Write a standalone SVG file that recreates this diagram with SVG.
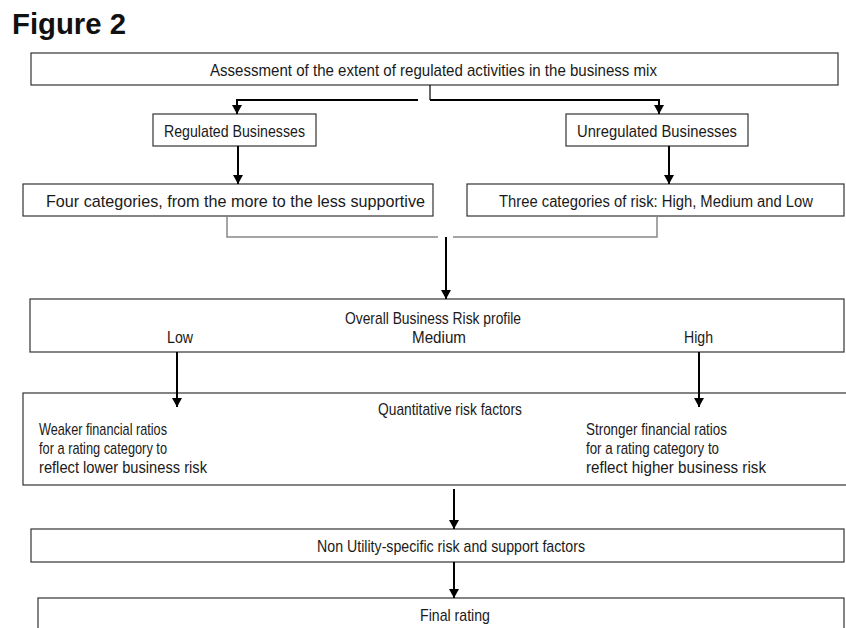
<svg xmlns="http://www.w3.org/2000/svg" width="846" height="628" viewBox="0 0 846 628">
<style>
.box{fill:#fff;stroke:#333;stroke-width:1.2}
.t{font-family:"Liberation Sans",Arial,sans-serif;font-size:17px;fill:#1a1a1a}
.arr{stroke:#000;stroke-width:2;fill:none}
.thin{stroke:#000;stroke-width:1.2;fill:none}
.gray{stroke:#888;stroke-width:1.5;fill:none}
</style>
<defs>
<marker id="ad" markerUnits="userSpaceOnUse" markerWidth="10" markerHeight="10" viewBox="0 0 10 10" refX="5" refY="10" orient="0">
<path d="M0,1 L10,1 L5,10 Z" fill="#000"/>
</marker>
</defs>
<rect width="846" height="628" fill="#fff"/>
<text x="12" y="34" style="font-family:'Liberation Sans',Arial,sans-serif;font-size:30px;font-weight:bold;fill:#111" textLength="114" lengthAdjust="spacingAndGlyphs">Figure 2</text>

<g id="assessment">
<rect class="box" x="31" y="53" width="807" height="32"/>
<text class="t" x="210" y="76" textLength="447" lengthAdjust="spacingAndGlyphs">Assessment of the extent of regulated activities in the business mix</text>
</g>
<g id="regulated">
<rect class="box" x="153" y="114" width="163" height="32"/>
<text class="t" x="164" y="137" textLength="141" lengthAdjust="spacingAndGlyphs">Regulated Businesses</text>
</g>
<g id="unregulated">
<rect class="box" x="566" y="114" width="182" height="32"/>
<text class="t" x="577" y="137" textLength="160" lengthAdjust="spacingAndGlyphs">Unregulated Businesses</text>
</g>
<g id="four">
<rect class="box" x="23" y="184" width="410" height="32"/>
<text class="t" x="46" y="207" textLength="379" lengthAdjust="spacingAndGlyphs">Four categories, from the more to the less  supportive</text>
</g>
<g id="three">
<rect class="box" x="467" y="184" width="377" height="32"/>
<text class="t" x="499" y="207" style="font-size:16px" textLength="314" lengthAdjust="spacingAndGlyphs">Three categories of risk: High, Medium and Low</text>
</g>
<g id="overall">
<rect class="box" x="30" y="299" width="814" height="53"/>
<text class="t" x="345" y="324" textLength="176" lengthAdjust="spacingAndGlyphs">Overall Business Risk profile</text>
<text class="t" x="167" y="343" textLength="26" lengthAdjust="spacingAndGlyphs">Low</text>
<text class="t" x="412" y="343" textLength="54" lengthAdjust="spacingAndGlyphs">Medium</text>
<text class="t" x="684" y="343" textLength="29" lengthAdjust="spacingAndGlyphs">High</text>
</g>
<g id="quantitative">
<rect class="box" x="23" y="393" width="830" height="92"/>
<text class="t" x="378" y="415" textLength="144" lengthAdjust="spacingAndGlyphs">Quantitative risk factors</text>
<text class="t" x="39" y="435" textLength="128" lengthAdjust="spacingAndGlyphs">Weaker financial ratios</text>
<text class="t" x="39" y="454" textLength="128" lengthAdjust="spacingAndGlyphs">for a rating category to</text>
<text class="t" x="39" y="473" textLength="168" lengthAdjust="spacingAndGlyphs">reflect lower business risk</text>
<text class="t" x="586" y="435" textLength="141" lengthAdjust="spacingAndGlyphs">Stronger financial ratios</text>
<text class="t" x="586" y="454" textLength="133" lengthAdjust="spacingAndGlyphs">for a rating category to</text>
<text class="t" x="586" y="473" textLength="180" lengthAdjust="spacingAndGlyphs">reflect higher business risk</text>
</g>
<g id="nonutility">
<rect class="box" x="31" y="529" width="813" height="33"/>
<text class="t" x="317" y="552" textLength="268" lengthAdjust="spacingAndGlyphs">Non Utility-specific risk and support factors</text>
</g>
<g id="final">
<rect class="box" x="38" y="598" width="806" height="45"/>
<text class="t" x="420" y="621" textLength="70" lengthAdjust="spacingAndGlyphs">Final rating</text>
</g>

<g id="connectors">
<line class="thin" x1="430" y1="85" x2="430" y2="100"/>
<polyline class="arr" points="430,100 659,100 659,114" marker-end="url(#ad)"/>
<polyline class="arr" points="418,100 237,100 237,114" marker-end="url(#ad)"/>
<line class="arr" x1="238" y1="146" x2="238" y2="184" marker-end="url(#ad)"/>
<line class="arr" x1="669" y1="146" x2="669" y2="184" marker-end="url(#ad)"/>
<polyline class="gray" points="227,216 227,237 438,237"/>
<polyline class="gray" points="453,237 657,237 657,216"/>
<line class="arr" x1="446" y1="237" x2="446" y2="299" marker-end="url(#ad)"/>
<line class="arr" x1="177" y1="352" x2="177" y2="407" marker-end="url(#ad)"/>
<line class="arr" x1="699" y1="352" x2="699" y2="407" marker-end="url(#ad)"/>
<line class="arr" x1="454" y1="489" x2="454" y2="529" marker-end="url(#ad)"/>
<line class="arr" x1="454" y1="562" x2="454" y2="598" marker-end="url(#ad)"/>
</g>
</svg>
